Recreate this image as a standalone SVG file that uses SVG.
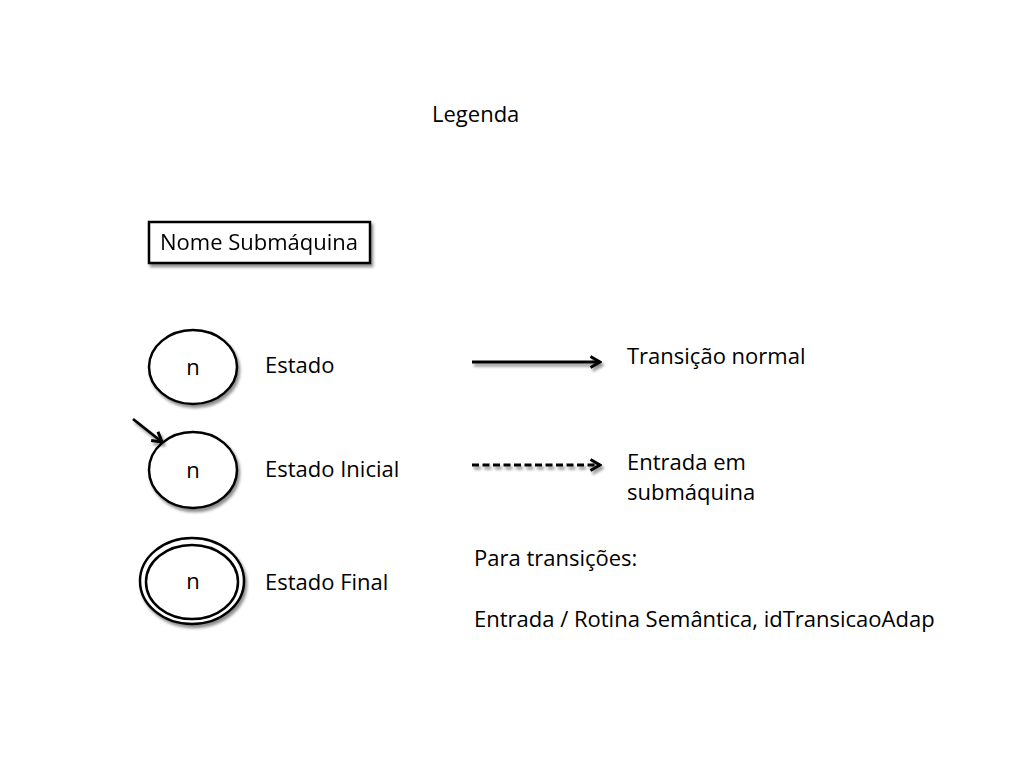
<svg xmlns="http://www.w3.org/2000/svg" width="1024" height="768" viewBox="0 0 1024 768">
<defs>
<filter id="sh" x="-20%" y="-20%" width="150%" height="150%">
<feGaussianBlur in="SourceAlpha" stdDeviation="1.5"/>
<feOffset dx="2" dy="3" result="b"/>
<feComponentTransfer><feFuncA type="linear" slope="0.45"/></feComponentTransfer>
<feMerge><feMergeNode/><feMergeNode in="SourceGraphic"/></feMerge>
</filter>
<marker id="ah" viewBox="0 0 14 14" refX="12" refY="7" markerWidth="14" markerHeight="14" orient="auto" markerUnits="userSpaceOnUse">
<path d="M2.5,1.5 L12,7 L2.5,12.5" fill="none" stroke="#000" stroke-width="3"/>
</marker>
</defs>
<style>
text{font-family:"Open Sans","Liberation Sans",sans-serif;font-size:22px;fill:#000}
.s{fill:#fff;stroke:#000;stroke-width:2.5}
.c{fill:none;stroke:#000;stroke-width:2.8}
</style>
<rect width="1024" height="768" fill="#fff"/>
<text x="432" y="122">Legenda</text>
<g id="submaquina" filter="url(#sh)">
<rect class="s" x="149" y="222" width="221" height="41"/>
<text x="160" y="250">Nome Submáquina</text>
</g>
<g id="estado">
<ellipse class="s" cx="193" cy="367" rx="44" ry="37" filter="url(#sh)"/>
<text x="193" y="375" text-anchor="middle">n</text>
<text x="265" y="373">Estado</text>
</g>
<g id="estado-inicial">
<ellipse class="s" cx="193" cy="470" rx="44" ry="38" filter="url(#sh)"/>
<text x="193" y="478" text-anchor="middle">n</text>
<text x="265" y="477">Estado Inicial</text>
</g>
<g id="estado-final">
<g filter="url(#sh)">
<ellipse class="s" cx="192" cy="581" rx="52" ry="43"/>
<ellipse class="s" cx="192" cy="582" rx="46" ry="37"/>
</g>
<text x="193" y="589" text-anchor="middle">n</text>
<text x="265" y="590">Estado Final</text>
</g>
<g id="connectors" filter="url(#sh)">
<line class="c" x1="133" y1="419" x2="162" y2="442" marker-end="url(#ah)"/>
<line class="c" x1="472" y1="362" x2="600" y2="362" marker-end="url(#ah)"/>
<line class="c" x1="472" y1="465" x2="600" y2="465" stroke-dasharray="7,3.5" marker-end="url(#ah)"/>
</g>
<g id="legend-text">
<text x="627" y="364">Transição normal</text>
<text x="627" y="470">Entrada em</text>
<text x="627" y="500">submáquina</text>
<text x="474" y="566">Para transições:</text>
<text x="474" y="627">Entrada / Rotina Semântica, idTransicaoAdap</text>
</g>
</svg>
